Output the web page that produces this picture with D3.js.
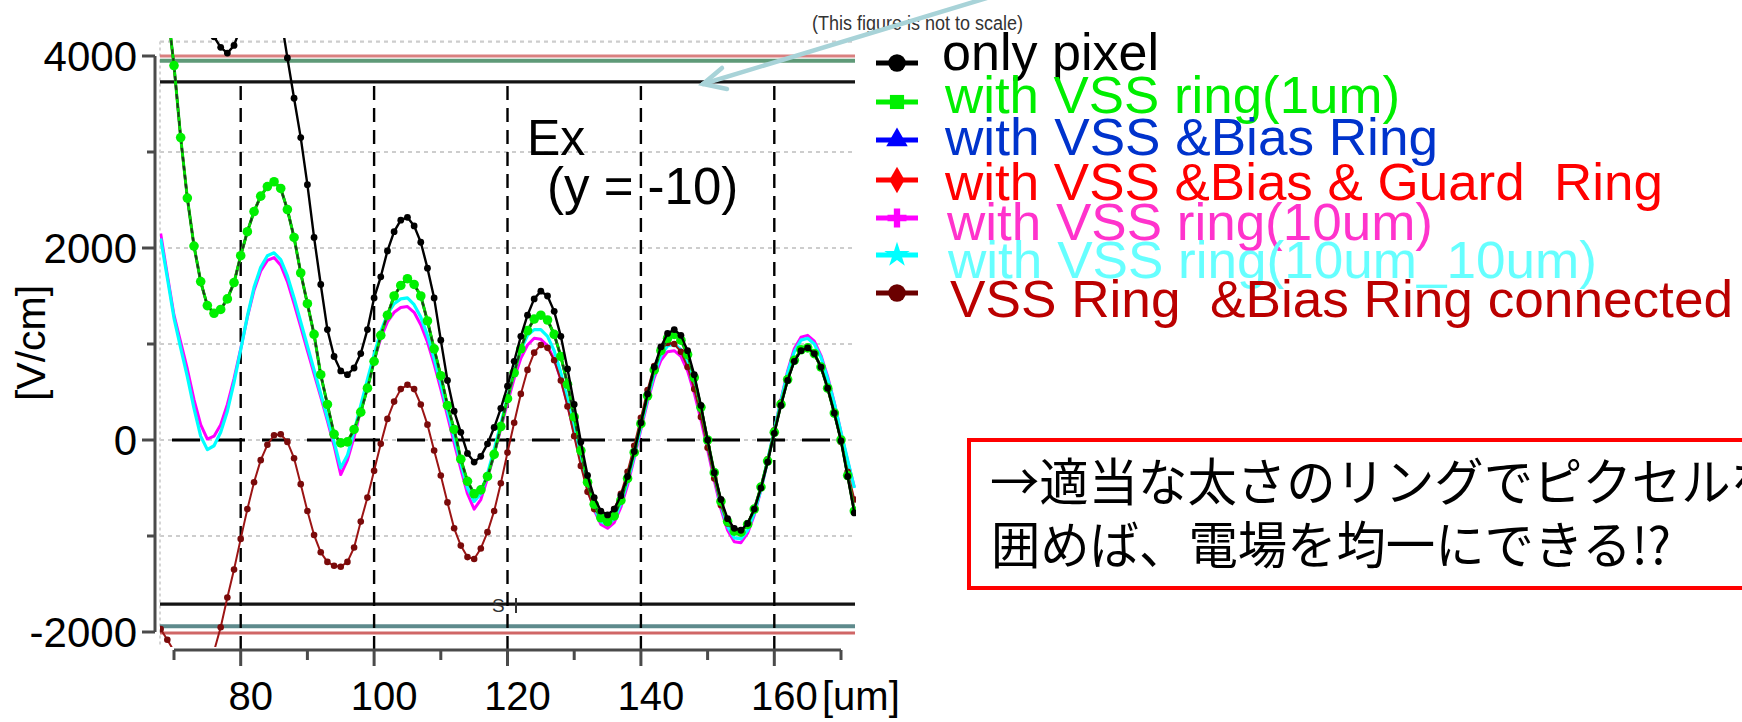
<!DOCTYPE html>
<html>
<head>
<meta charset="utf-8">
<script src="https://cdn.jsdelivr.net/npm/d3@7"></script>
<style>
  html, body { margin: 0; padding: 0; background: #fff; }
  svg { display: block; font-family: "Liberation Sans", Arial, Helvetica, sans-serif; }
  .pre { white-space: pre; }
</style>
</head>
<body>
<svg id="chart" width="1742" height="722"></svg>
<script>
// ---- data -------------------------------------------------------------
// sample positions along x [um], one sample per micron
const positionsUm = d3.range(68, 173);

// Ex [V/cm] at y = -10, one value per sample position (68 ... 172 um)
const onlyPixel = [
  5600, 5350, 5100, 4880, 4680, 4500, 4360, 4240, 4200, 4090,
  4030, 4110, 4300, 4550, 4800, 4950, 4950, 4780, 4420, 3980,
  3560, 3150, 2660, 2110, 1620, 1150, 870, 720, 680, 750,
  900, 1150, 1480, 1700, 1970, 2170, 2290, 2320, 2230, 2060,
  1790, 1480, 1040, 620, 300, 80, -140, -230, -170, -40,
  130, 330, 560, 820, 1080, 1300, 1470, 1550, 1500, 1340,
  1080, 740, 370, -20, -370, -600, -740, -780, -720, -580,
  -380, -120, 180, 480, 760, 970, 1110, 1150, 1090, 930,
  680, 360, 0, -340, -620, -820, -920, -940, -870, -720,
  -500, -230, 70, 360, 620, 820, 930, 960, 900, 760,
  540, 280, -10, -380, -760
];
const vssRing1um = [
  5000, 4500, 3900, 3150, 2520, 2020, 1650, 1400, 1320, 1360,
  1470, 1640, 1920, 2170, 2380, 2540, 2640, 2690, 2620, 2400,
  2110, 1740, 1420, 1100, 680, 370, 60, -30, -20, 110,
  290, 540, 820, 1090, 1300, 1500, 1610, 1680, 1620, 1500,
  1240, 950, 670, 360, 110, -200, -430, -560, -520, -380,
  -150, 140, 430, 700, 950, 1140, 1260, 1300, 1250, 1100,
  870, 580, 240, -110, -440, -670, -810, -850, -790, -630,
  -400, -130, 170, 460, 730, 930, 1060, 1100, 1040, 890,
  650, 340, 0, -340, -640, -850, -950, -960, -880, -720,
  -490, -220, 80, 370, 630, 830, 940, 960, 900, 760,
  540, 280, 0, -370, -740
];
const vssBiasRing = [
  5000, 4500, 3900, 3150, 2520, 2020, 1650, 1400, 1320, 1360,
  1470, 1640, 1920, 2170, 2380, 2540, 2640, 2690, 2620, 2400,
  2110, 1740, 1420, 1100, 680, 370, 60, -30, -20, 110,
  290, 540, 820, 1090, 1300, 1500, 1610, 1680, 1620, 1500,
  1240, 950, 670, 360, 110, -200, -430, -560, -520, -380,
  -150, 140, 430, 700, 950, 1140, 1260, 1300, 1250, 1100,
  870, 580, 240, -110, -440, -670, -810, -850, -790, -630,
  -400, -130, 170, 460, 730, 930, 1060, 1100, 1040, 890,
  650, 340, 0, -340, -640, -850, -950, -960, -880, -720,
  -490, -220, 80, 370, 630, 830, 940, 960, 900, 760,
  540, 280, 0, -370, -740
];
const vssBiasGuardRing = [
  5000, 4500, 3900, 3150, 2520, 2020, 1650, 1400, 1320, 1360,
  1470, 1640, 1920, 2170, 2380, 2540, 2640, 2690, 2620, 2400,
  2110, 1740, 1420, 1100, 680, 370, 60, -30, -20, 110,
  290, 540, 820, 1090, 1300, 1500, 1610, 1680, 1620, 1500,
  1240, 950, 670, 360, 110, -200, -430, -560, -520, -380,
  -150, 140, 430, 700, 950, 1140, 1260, 1300, 1250, 1100,
  870, 580, 240, -110, -440, -670, -810, -850, -790, -630,
  -400, -130, 170, 460, 730, 930, 1060, 1100, 1040, 890,
  650, 340, 0, -340, -640, -850, -950, -960, -880, -720,
  -490, -220, 80, 370, 630, 830, 940, 960, 900, 760,
  540, 280, 0, -370, -740
];
const vssRing10um = [
  2150, 1720, 1300, 1020, 740, 420, 160, 10, 40, 160,
  370, 640, 950, 1280, 1560, 1760, 1870, 1900, 1820, 1650,
  1420, 1180, 930, 690, 450, 200, -60, -360, -210, 30,
  320, 580, 830, 1060, 1230, 1330, 1380, 1390, 1330, 1200,
  1020, 790, 530, 250, -30, -300, -560, -720, -620, -400,
  -150, 120, 390, 640, 850, 990, 1060, 1050, 980, 840,
  630, 370, 80, -220, -500, -730, -880, -920, -860, -700,
  -470, -190, 110, 400, 650, 830, 920, 930, 870, 720,
  490, 210, -100, -420, -720, -940, -1060, -1070, -970, -780,
  -520, -220, 100, 420, 720, 950, 1070, 1090, 1030, 880,
  660, 390, 80, -220, -490
];
const vssRing10um10um = [
  2100, 1690, 1270, 960, 660, 330, 40, -100, -60, 80,
  300, 600, 940, 1290, 1590, 1800, 1920, 1950, 1880, 1710,
  1480, 1230, 980, 730, 480, 230, -20, -290, -160, 90,
  360, 630, 890, 1130, 1310, 1420, 1470, 1480, 1410, 1280,
  1090, 850, 590, 310, 30, -240, -500, -640, -560, -350,
  -100, 170, 440, 710, 940, 1090, 1150, 1150, 1080, 930,
  700, 420, 110, -200, -490, -710, -850, -880, -820, -660,
  -430, -160, 140, 430, 690, 880, 980, 1000, 940, 790,
  560, 270, -50, -380, -680, -900, -1020, -1030, -940, -760,
  -510, -210, 100, 410, 700, 920, 1040, 1060, 1000, 860,
  640, 380, 80, -210, -500
];
const vssBiasConnected = [
  -1970, -2080, -2200, -2400, -2550, -2620, -2600, -2480, -2200, -1950,
  -1640, -1350, -1030, -720, -440, -210, -50, 50, 60, -20,
  -190, -460, -740, -990, -1170, -1270, -1310, -1320, -1270, -1120,
  -850, -600, -320, -40, 220, 400, 530, 575, 530, 370,
  160, -110, -370, -650, -920, -1100, -1220, -1240, -1130, -960,
  -740, -450, -130, 180, 480, 730, 910, 990, 960, 830,
  620, 350, 40, -270, -540, -720, -800, -800, -720, -560,
  -330, -60, 230, 520, 770, 940, 1010, 1000, 920, 760,
  530, 240, -80, -400, -680, -870, -950, -950, -870, -710,
  -480, -200, 100, 390, 640, 830, 930, 950, 890, 750,
  530, 270, -20, -330, -620
];

const seriesNames = [
  "only pixel",
  "with VSS ring(1um)",
  "with VSS &Bias Ring",
  "with VSS &Bias & Guard  Ring",
  "with VSS ring(10um)",
  "with VSS ring(10um_10um)",
  "VSS Ring  &Bias Ring connected"
];

// axis ticks and labels
const yMajorTicks = [4000, 2000, 0, -2000];
const yMinorTicks = [3000, 1000, -1000];
const xMajorTicks = [80, 100, 120, 140, 160];
const xMinorTicks = [70, 90, 110, 130, 150, 170];
const gridLevels = [4150, 3000, 2000, 1000, 0, -1000];
// horizontal level bands at the top and bottom of the plot
const bandLevels = [4000, 3950, 3730, -1710, -1940, -2010];

const boxLines = ["→適当な太さのリングでピクセルを", "囲めば、電場を均一にできる!?"];

// ---- layout -----------------------------------------------------------
const svg = d3.select("#chart");
const x = d3.scaleLinear().domain([70, 170]).range([174, 841]);
const y = d3.scaleLinear().domain([-2000, 4000]).range([632, 56]);
const plot = { left: 160, right: 856, top: 38, bottom: 647 };
const axisX = 155, axisY = 650;

svg.append("rect").attr("width", 1742).attr("height", 722).attr("fill", "#fff");

svg.append("defs").append("clipPath").attr("id", "plotClip")
  .append("rect")
  .attr("x", plot.left).attr("y", plot.top)
  .attr("width", plot.right - plot.left).attr("height", plot.bottom - plot.top);

// dotted grid
const grid = svg.append("g");
grid.selectAll("line.h").data(gridLevels).join("line")
  .attr("x1", plot.left).attr("x2", plot.right)
  .attr("y1", d => y(d)).attr("y2", d => y(d))
  .attr("stroke", "#cdcdcd").attr("stroke-width", 2.2).attr("stroke-dasharray", "4,4");
grid.append("line")
  .attr("x1", plot.left).attr("x2", plot.left).attr("y1", y(4150)).attr("y2", plot.bottom)
  .attr("stroke", "#d5d5d5").attr("stroke-width", 2).attr("stroke-dasharray", "3,3");

// level bands
const bandStyles = [
  { stroke: "#d98080", width: 3 },
  { stroke: "#5f9a78", width: 4 },
  { stroke: "#141414", width: 3.2 },
  { stroke: "#141414", width: 3.2 },
  { stroke: "#5e8a8c", width: 4 },
  { stroke: "#d06666", width: 3 }
];
svg.append("g").selectAll("line").data(bandLevels).join("line")
  .attr("x1", plot.left).attr("x2", plot.right - 1)
  .attr("y1", d => y(d)).attr("y2", d => y(d))
  .attr("stroke", (d, i) => bandStyles[i].stroke)
  .attr("stroke-width", (d, i) => bandStyles[i].width);

// dashed reference lines
svg.append("g").selectAll("line").data(xMajorTicks).join("line")
  .attr("x1", d => x(d)).attr("x2", d => x(d))
  .attr("y1", 86).attr("y2", axisY)
  .attr("stroke", "#000").attr("stroke-width", 2.4).attr("stroke-dasharray", "14,8");
svg.append("line")
  .attr("x1", 172).attr("x2", 846).attr("y1", y(0)).attr("y2", y(0))
  .attr("stroke", "#000").attr("stroke-width", 3).attr("stroke-dasharray", "28,17");

// ---- series -----------------------------------------------------------
const toPoints = vals => positionsUm.map((um, i) => ({ um, v: vals[i] }));
const line = d3.line().x(d => x(d.um)).y(d => y(d.v)).curve(d3.curveLinear);
const curves = svg.append("g").attr("clip-path", "url(#plotClip)");

function drawSeries(vals, opt) {
  const pts = toPoints(vals);
  const g = curves.append("g");
  g.append("path").datum(pts).attr("d", line).attr("fill", "none")
    .attr("stroke", opt.stroke).attr("stroke-width", opt.width)
    .attr("stroke-linejoin", "round");
  if (opt.dash) {
    g.append("path").datum(pts).attr("d", line).attr("fill", "none")
      .attr("stroke", opt.dash).attr("stroke-width", 2).attr("stroke-dasharray", "5,4");
  }
  if (opt.r) {
    g.selectAll("circle").data(pts).join("circle")
      .attr("cx", d => x(d.um)).attr("cy", d => y(d.v)).attr("r", opt.r)
      .attr("fill", opt.marker);
  }
}

drawSeries(vssBiasRing, { stroke: "#0000ff", width: 2.5 });
drawSeries(vssBiasGuardRing, { stroke: "#ff0000", width: 2.5 });
drawSeries(vssRing10um, { stroke: "#ff00ff", width: 3 });
drawSeries(vssRing10um10um, { stroke: "#00ffff", width: 3.2 });
drawSeries(vssBiasConnected, { stroke: "#9c1414", width: 2, r: 3.3, marker: "#7a0a0a" });
drawSeries(vssRing1um, { stroke: "#00e000", width: 3, dash: "#1e3a1e", r: 4.8, marker: "#00f000" });
drawSeries(onlyPixel, { stroke: "#000", width: 2.4, r: 3.4, marker: "#000" });

// ---- axes -------------------------------------------------------------
const axes = svg.append("g").attr("stroke", "#4a4a4a");
axes.append("line").attr("x1", axisX).attr("x2", axisX)
  .attr("y1", y(4000)).attr("y2", y(-2000)).attr("stroke-width", 3);
axes.selectAll("line.ymaj").data(yMajorTicks).join("line").attr("class", "ymaj")
  .attr("x1", 142).attr("x2", axisX).attr("y1", d => y(d)).attr("y2", d => y(d)).attr("stroke-width", 3);
axes.selectAll("line.ymin").data(yMinorTicks).join("line").attr("class", "ymin")
  .attr("x1", 147).attr("x2", axisX).attr("y1", d => y(d)).attr("y2", d => y(d)).attr("stroke-width", 3);
axes.append("line").attr("x1", x(70)).attr("x2", x(170))
  .attr("y1", axisY).attr("y2", axisY).attr("stroke-width", 3);
axes.selectAll("line.xmaj").data(xMajorTicks).join("line").attr("class", "xmaj")
  .attr("x1", d => x(d)).attr("x2", d => x(d)).attr("y1", axisY).attr("y2", axisY + 16).attr("stroke-width", 3);
axes.selectAll("line.xmin").data(xMinorTicks).join("line").attr("class", "xmin")
  .attr("x1", d => x(d)).attr("x2", d => x(d)).attr("y1", axisY).attr("y2", axisY + 10).attr("stroke-width", 3);

svg.append("g").selectAll("text").data(yMajorTicks).join("text")
  .attr("x", 137).attr("y", d => y(d) + 15)
  .attr("text-anchor", "end").attr("font-size", 42).attr("fill", "#000")
  .text(d => d);
svg.append("g").selectAll("text").data(xMajorTicks).join("text")
  .attr("x", d => x(d) + 10).attr("y", 710)
  .attr("text-anchor", "middle").attr("font-size", 40).attr("fill", "#000")
  .text(d => d);
svg.append("text").attr("x", 822).attr("y", 710).attr("font-size", 40).text("[um]");
svg.append("text").attr("transform", "translate(45,343) rotate(-90)")
  .attr("text-anchor", "middle").attr("font-size", 41).text("[V/cm]");

// in-plot annotation
svg.append("text").attr("x", 527).attr("y", 155).attr("font-size", 50).text("Ex");
svg.append("text").attr("x", 547).attr("y", 204).attr("font-size", 51).text("(y = -10)");

// small mark near the lower band
svg.append("text").attr("x", 492).attr("y", 612).attr("font-size", 19).attr("fill", "#333").text("S");
svg.append("line").attr("x1", 516).attr("x2", 516).attr("y1", 598).attr("y2", 613)
  .attr("stroke", "#333").attr("stroke-width", 2);

// ---- note and arrow ---------------------------------------------------
svg.append("text").attr("x", 812).attr("y", 30).attr("font-size", 20).attr("fill", "#333")
  .attr("textLength", 211).attr("lengthAdjust", "spacingAndGlyphs")
  .text("(This figure is not to scale)");
const arrow = svg.append("g").attr("stroke", "#a8d3d8").attr("stroke-width", 4.5)
  .attr("stroke-linecap", "round").attr("fill", "none");
arrow.append("line").attr("x1", 1000).attr("y1", -6).attr("x2", 703).attr("y2", 84);
arrow.append("polyline").attr("points", "722,68 703,84 727,89");

// ---- legend -----------------------------------------------------------
const legendMarkerColors = ["#000000", "#00f000", "#0000ff", "#ff0000", "#ff00ff", "#00ffff", "#6b0000"];
const legendTextColors = ["#000000", "#00ee00", "#0033cc", "#ff0000", "#ff33cc", "#66ffff", "#bb0000"];
const legendSymbols = [d3.symbolCircle, d3.symbolSquare, d3.symbolTriangle, d3.symbolDiamond,
                       d3.symbolCross, d3.symbolStar, d3.symbolCircle];
const legendRowY = [63, 102, 140, 180, 218, 255, 293];
const legendBaseline = [70, 113, 155, 200, 240, 278, 317];
const legendTextX = [942, 945, 945, 945, 947, 948, 950];
const legendTextW = [217, 455, 493, 718, 486, 649, 783];

const legend = svg.append("g");
seriesNames.forEach((name, i) => {
  const c = legendMarkerColors[i];
  legend.append("line").attr("x1", 876).attr("x2", 918)
    .attr("y1", legendRowY[i]).attr("y2", legendRowY[i])
    .attr("stroke", c).attr("stroke-width", 5);
  legend.append("path")
    .attr("transform", `translate(897,${legendRowY[i]})`)
    .attr("d", d3.symbol().type(legendSymbols[i]).size(i === 0 || i === 6 ? 240 : 200)())
    .attr("fill", c);
  legend.append("text").attr("class", "pre")
    .attr("x", legendTextX[i]).attr("y", legendBaseline[i])
    .attr("font-size", 52).attr("fill", legendTextColors[i])
    .attr("textLength", legendTextW[i]).attr("lengthAdjust", "spacingAndGlyphs")
    .text(name);
});

// ---- boxed remark -----------------------------------------------------
svg.append("rect").attr("x", 969).attr("y", 440).attr("width", 820).attr("height", 148)
  .attr("fill", "#fff").attr("stroke", "#ff0000").attr("stroke-width", 4);
const boxText = svg.append("g").attr("font-family", '"Noto Sans CJK JP", "Noto Sans CJK SC", sans-serif')
  .attr("font-size", 51).attr("fill", "#000");
boxText.append("text").attr("x", 990).attr("y", 501)
  .attr("textLength", 790).attr("lengthAdjust", "spacingAndGlyphs").text(boxLines[0]);
boxText.append("text").attr("x", 991).attr("y", 564)
  .attr("textLength", 680).attr("lengthAdjust", "spacingAndGlyphs").text(boxLines[1]);
</script>
</body>
</html>
